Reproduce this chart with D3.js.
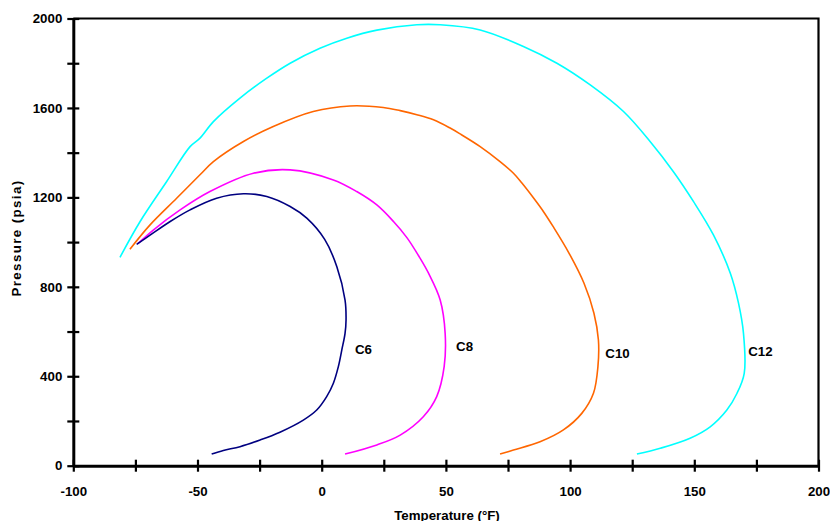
<!DOCTYPE html>
<html>
<head>
<meta charset="utf-8">
<script src="https://cdn.jsdelivr.net/npm/d3@7"></script>
<style>
  html, body { margin: 0; padding: 0; background: #fff; }
  svg { display: block; }
  text { font-family: "Liberation Sans", Arial, sans-serif; font-weight: bold; fill: #000; }
</style>
</head>
<body>
<svg id="chart" width="830" height="521"></svg>
<script>
// ---- data (Temperature °F, Pressure psia) ----
const c6 = [[-74.5,990],[-69.1,1031],[-61,1092],[-53,1144],[-42.3,1196],[-31.5,1216],[-22.1,1204],[-12.7,1159],[-6,1107],[1.2,1012],[6.1,890],[9.4,741],[9.8,652],[9.4,592],[8.1,518],[6.7,443],[4.7,369],[2,309],[-2,249],[-7.4,204],[-16.8,150],[-24.8,115],[-32.9,85],[-39.6,68],[-44.3,52]];
const c8 = [[-74,993],[-67.8,1054],[-57,1144],[-45,1226],[-27.5,1308],[-12.7,1323],[4.7,1278],[14.1,1226],[22.2,1166],[28.9,1092],[34.3,1020],[39.6,928],[43,861],[47.7,741],[49.7,592],[49.3,443],[46.3,309],[40.9,219],[31.6,137],[22.2,93],[9.4,52]];
const c10 = [[-77.2,968],[-69.1,1077],[-58.4,1196],[-49,1301],[-43.6,1360],[-31.5,1450],[-19.5,1517],[-3.4,1584],[11.4,1609],[24.8,1602],[31.6,1588],[38.3,1570],[45,1547],[51.7,1510],[55.7,1484],[63.8,1427],[71.8,1360],[77.2,1308],[80.6,1264],[85.9,1188],[89.3,1136],[93.2,1069],[99.6,950],[105.6,816],[109.6,682],[111.4,562],[111.2,443],[109.4,324],[104.7,234],[97.3,160],[87.9,107],[77.2,70],[71.8,52]];
const c12 = [[-81.2,932],[-73.1,1092],[-62.4,1271],[-53,1427],[-49,1465],[-43.6,1539],[-32.9,1644],[-22.1,1733],[-12.7,1800],[-0.7,1867],[10.1,1912],[22.2,1948],[38.3,1972],[47.7,1972],[63.8,1949],[81.2,1875],[94.7,1800],[108.1,1703],[121.5,1584],[132.2,1450],[141.6,1315],[149.7,1181],[157.7,1032],[164.5,861],[167.8,727],[169.8,592],[170.1,413],[167.2,324],[163.1,249],[156.4,174],[148.3,123],[136.3,78],[126.9,52]];
const seriesNames = ["C12", "C10", "C8", "C6"];
const seriesColors = ["#00ffff", "#ff6600", "#ff00ff", "#000080"];
const labelT = [171.7, 114.2, 54.1, 13.4];
const labelP = [511, 504, 532, 522];
const xTickLabels = [-100, -50, 0, 50, 100, 150, 200];
const yTickLabels = [0, 400, 800, 1200, 1600, 2000];

const seriesData = [c12, c10, c8, c6];

const svg = d3.select("#chart");
const mLeft = 73.3, mRight = 818.5, mTop = 18.5, mBottom = 465.7;
const fs = 13.3;

const x = d3.scaleLinear().domain([-100, 200]).range([mLeft, mRight]);
const y = d3.scaleLinear().domain([0, 2000]).range([mBottom, mTop]);

// frame: top and right border
svg.append("path")
  .attr("d", `M${mLeft},${mTop}H${mRight}V${mBottom}`)
  .attr("fill", "none").attr("stroke", "#000").attr("stroke-width", 2.2);

// curves
const line = d3.line().x(d => x(d[0])).y(d => y(d[1])).curve(d3.curveCatmullRom.alpha(0.5));
svg.selectAll("path.series").data(seriesData).enter().append("path")
  .attr("class", "series")
  .attr("d", line)
  .attr("fill", "none")
  .attr("stroke", (d, i) => seriesColors[i])
  .attr("stroke-width", 1.6)
  .attr("stroke-linejoin", "round");

// series labels
svg.selectAll("text.lbl").data(seriesNames).enter().append("text")
  .attr("class", "lbl")
  .attr("x", (d, i) => x(labelT[i]))
  .attr("y", (d, i) => y(labelP[i]))
  .attr("dy", "0.35em")
  .attr("font-size", fs)
  .text(d => d);

// x axis
const xAxis = d3.axisBottom(x)
  .tickValues(d3.range(-100, 201, 25))
  .tickSizeInner(6).tickSizeOuter(0)
  .tickFormat(d => xTickLabels.includes(d) ? d : "");
const gx = svg.append("g").attr("transform", `translate(0,${mBottom})`).call(xAxis);
gx.select(".domain").attr("stroke-width", 3).attr("stroke", "#000");
gx.selectAll(".tick line").attr("y1", -6).attr("y2", 6).attr("stroke-width", 2.2);
gx.selectAll(".tick text").attr("y", 21).attr("font-size", fs)
  .attr("font-family", "Liberation Sans, Arial, sans-serif").attr("font-weight", "bold");

// y axis
const yAxis = d3.axisLeft(y)
  .tickValues(d3.range(0, 2001, 200))
  .tickSizeInner(6).tickSizeOuter(0)
  .tickFormat(d => yTickLabels.includes(d) ? d : "");
const gy = svg.append("g").attr("transform", `translate(${mLeft},0)`).call(yAxis);
gy.select(".domain").attr("stroke-width", 3).attr("stroke", "#000");
gy.selectAll(".tick line").attr("x1", -6).attr("x2", 6).attr("stroke-width", 2.2);
gy.selectAll(".tick text").attr("x", -11).attr("font-size", fs)
  .attr("font-family", "Liberation Sans, Arial, sans-serif").attr("font-weight", "bold");

// axis titles
svg.append("text")
  .attr("x", 447).attr("y", 519.5)
  .attr("text-anchor", "middle").attr("font-size", fs)
  .text("Temperature (°F)");
svg.append("text")
  .attr("transform", "translate(21,238) rotate(-90)")
  .attr("text-anchor", "middle").attr("font-size", fs)
  .attr("letter-spacing", 1.4)
  .text("Pressure (psia)");
</script>
</body>
</html>
